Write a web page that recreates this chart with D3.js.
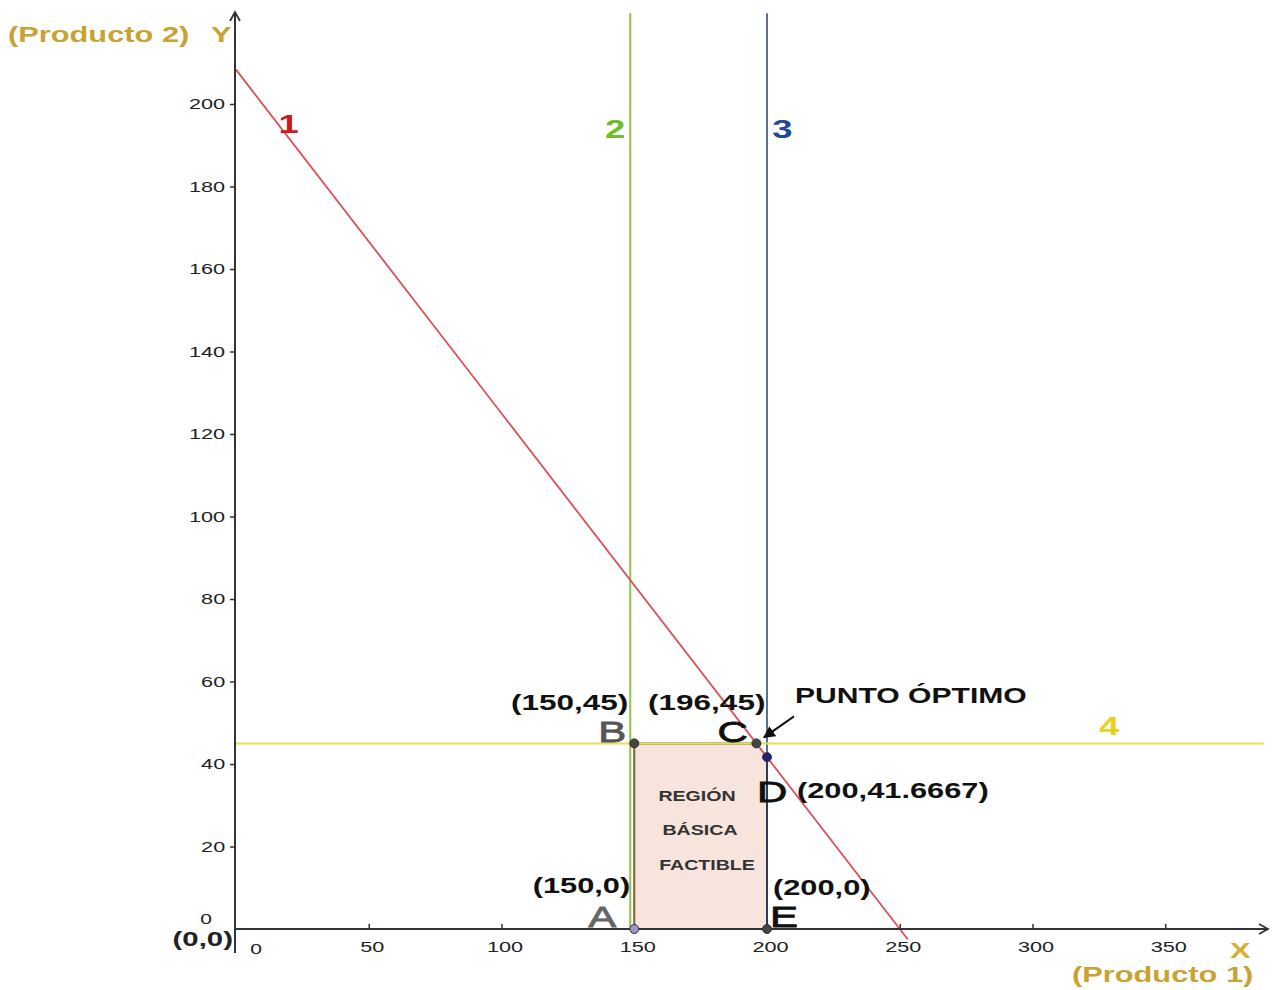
<!DOCTYPE html>
<html>
<head>
<meta charset="utf-8">
<script src="https://cdnjs.cloudflare.com/ajax/libs/d3/7.8.5/d3.min.js"></script>
<style>
  body { margin: 0; background: #fff; }
  svg { display: block; font-family: "Liberation Sans", Arial, sans-serif; }
</style>
</head>
<body>
<div id="chart"></div>
<script>
// Ticks
const xTicks = [50, 100, 150, 200, 250, 300, 350];
const yTicks = [20, 40, 60, 80, 100, 120, 140, 160, 180, 200];

// Restricciones (en unidades de los datos)
const line1 = [[0, 208.33], [253, -2.5]];       // 5x + 6y = 1250
const line2 = [[150, 0], [150, 222]];           // x = 150
const line3 = [[200, 0], [200, 222]];           // x = 200
const line4 = [[0, 45], [387, 45]];             // y = 45

// Vertices de la region
const vertexNames = ["A", "B", "C", "D", "E"];
const vertexX = [150, 150, 196, 200, 200];
const vertexY = [0, 45, 45, 41.6667, 0];
const vertexLabels = ["(150,0)", "(150,45)", "(196,45)", "(200,41.6667)", "(200,0)"];

function drawChart() {
    const W = 1275, H = 990;
    const SX = 1.4; // the original picture is stretched horizontally

    const svg = d3.select("#chart").append("svg")
        .attr("width", W).attr("height", H);

    const x = d3.scaleLinear().domain([0, 200]).range([236, 767]);
    const y = d3.scaleLinear().domain([0, 200]).range([929, 104]);

    // text helper, stretched like the source image
    function label(px, py, txt, opt) {
        opt = opt || {};
        return svg.append("text")
            .attr("transform", `translate(${px},${py}) scale(${SX},1)`)
            .attr("text-anchor", opt.anchor || "start")
            .attr("font-size", opt.size || 15)
            .attr("font-weight", opt.weight || "bold")
            .attr("fill", opt.color || "#111")
            .text(txt);
    }

    const line = d3.line().x(d => x(d[0])).y(d => y(d[1]));

    // region basica factible
    const region = vertexX.map((v, i) => [v, vertexY[i]]);
    svg.append("path")
        .attr("d", line(region) + "Z")
        .attr("fill", "#f6e4dd")
        .attr("stroke", "none");
    svg.append("path").attr("d", line([region[0], region[1]]))
        .attr("stroke", "#8a5a30").attr("stroke-width", 2).attr("fill", "none");
    svg.append("path").attr("d", line([region[1], region[2]]))
        .attr("stroke", "#444").attr("stroke-width", 2).attr("fill", "none");
    svg.append("path").attr("d", line([region[3], region[4]]))
        .attr("stroke", "#333").attr("stroke-width", 2).attr("fill", "none");

    // restriction lines
    svg.append("path").attr("d", line(line2))
        .attr("transform", "translate(-4,0)")
        .attr("stroke", "#8fc440").attr("stroke-width", 2).attr("fill", "none");
    svg.append("path").attr("d", line(line3))
        .attr("stroke", "#24406e").attr("stroke-width", 1.5).attr("fill", "none");
    svg.append("path").attr("d", line(line4))
        .attr("stroke", "#e6e050").attr("stroke-width", 2).attr("fill", "none");
    svg.append("path").attr("d", line(line1))
        .attr("stroke", "#d9505a").attr("stroke-width", 1.8).attr("fill", "none");

    // axes
    const defs = svg.append("defs");
    defs.append("marker").attr("id", "chev")
        .attr("viewBox", "0 0 12 12").attr("refX", 10).attr("refY", 6)
        .attr("markerWidth", 12).attr("markerHeight", 12)
        .attr("markerUnits", "userSpaceOnUse").attr("orient", "auto")
        .append("path").attr("d", "M1,1 L10,6 L1,11")
        .attr("fill", "none").attr("stroke", "#333").attr("stroke-width", 1.8);
    defs.append("marker").attr("id", "arrowHead")
        .attr("viewBox", "0 0 10 10").attr("refX", 9).attr("refY", 5)
        .attr("markerWidth", 12).attr("markerHeight", 12)
        .attr("markerUnits", "userSpaceOnUse").attr("orient", "auto")
        .append("path").attr("d", "M0,0 L10,5 L0,10 Z").attr("fill", "#111");

    svg.append("line")
        .attr("x1", 234).attr("y1", y(0)).attr("x2", 1268).attr("y2", y(0))
        .attr("stroke", "#333").attr("stroke-width", 2).attr("marker-end", "url(#chev)");
    svg.append("line")
        .attr("x1", x(0) - 1).attr("y1", y(0) + 24).attr("x2", x(0) - 1).attr("y2", 12)
        .attr("stroke", "#333").attr("stroke-width", 2).attr("marker-end", "url(#chev)");

    const gx = svg.append("g")
        .attr("transform", `translate(0,${y(0)})`)
        .call(d3.axisBottom(x).tickValues(xTicks).tickSizeInner(-5).tickSizeOuter(0).tickPadding(12));
    const gy = svg.append("g")
        .attr("transform", `translate(${x(0) - 1},0)`)
        .call(d3.axisLeft(y).tickValues(yTicks).tickSizeInner(5).tickSizeOuter(0).tickPadding(2));
    [gx, gy].forEach(g => {
        g.select(".domain").remove();
        g.selectAll(".tick line").attr("stroke", "#333").attr("stroke-width", 1.5);
        g.selectAll(".tick text")
            .attr("font-family", "Liberation Sans, Arial, sans-serif")
            .attr("font-size", 15.5).attr("fill", "#222");
    });
    gx.selectAll(".tick text").attr("transform", `translate(3,0) scale(${SX},1)`);
    gy.selectAll(".tick text").attr("transform", `scale(${SX},1)`).attr("dy", "0.32em");

    label(x(0) + 20, y(0) + 25, "0", {weight: "normal", anchor: "middle", color: "#222"});
    label(x(0) - 30, y(0) - 5, "0", {weight: "normal", anchor: "middle", color: "#222"});
    label(x(0) - 3, y(0) + 17, "(0,0)", {anchor: "end", size: 21, color: "#222"});

    // axis titles
    label(8, 42, "(Producto 2)", {size: 22, color: "#c9a232"});
    label(211, 42, "Y", {size: 22, color: "#c9a232"});
    label(1230, 958, "X", {size: 22, color: "#d6b030"});
    label(1072, 982, "(Producto 1)", {size: 22, color: "#c9a232"});

    // restriction numbers
    label(x(16), 133, "1", {size: 26, color: "#cc1a1a"});
    label(x(139), 138, "2", {size: 26, color: "#6cbf2a"});
    label(x(202), 138, "3", {size: 26, color: "#1f4a9a"});
    label(x(325), y(45) - 8, "4", {size: 26, color: "#e8d020"});

    // vertex points
    const pointFill = ["#a094cc", "#444", "#444", "#22227a", "#444"];
    svg.selectAll(".vertex")
        .data(vertexNames)
        .join("circle")
        .attr("class", "vertex")
        .attr("cx", (d, i) => x(vertexX[i]))
        .attr("cy", (d, i) => y(vertexY[i]))
        .attr("r", 4.5)
        .attr("fill", (d, i) => pointFill[i])
        .attr("stroke", "#333").attr("stroke-width", 1);

    // vertex letters
    const letterPos = [[x(150) - 46, y(0) - 2, "#666"], [x(150) - 36, y(45) - 1, "#555"],
                       [x(196) - 39, y(45) - 1, "#111"], [x(200) - 10, y(45) + 59, "#111"],
                       [x(200) + 3, y(0) - 2, "#111"]];
    vertexNames.forEach((n, i) => {
        label(letterPos[i][0], letterPos[i][1], n, {size: 30, weight: "normal", color: letterPos[i][2]})
            .attr("stroke", letterPos[i][2]).attr("stroke-width", 0.8);
    });

    // coordinate labels
    label(x(150) - 4, y(0) - 36, vertexLabels[0], {anchor: "end", size: 22});
    label(x(150) - 6, y(45) - 33, vertexLabels[1], {anchor: "end", size: 22.5});
    label(x(196) + 9, y(45) - 33, vertexLabels[2], {anchor: "end", size: 22.5});
    label(x(200) + 30, y(45) + 55, vertexLabels[3], {size: 22});
    label(x(200) + 6, y(0) - 34, vertexLabels[4], {size: 22});

    // punto optimo
    label(x(200) + 28, y(45) - 40, "PUNTO ÓPTIMO", {size: 21.5});
    svg.append("line")
        .attr("x1", x(200) + 27).attr("y1", y(45) - 27)
        .attr("x2", x(200) - 3).attr("y2", y(45) - 6)
        .attr("stroke", "#111").attr("stroke-width", 2)
        .attr("marker-end", "url(#arrowHead)");

    // region text
    label(697, 801, "REGIÓN", {anchor: "middle", size: 14, color: "#333"});
    label(700, 835, "BÁSICA", {anchor: "middle", size: 14, color: "#333"});
    label(707, 870, "FACTIBLE", {anchor: "middle", size: 14, color: "#333"});
}
drawChart();
</script>
</body>
</html>
